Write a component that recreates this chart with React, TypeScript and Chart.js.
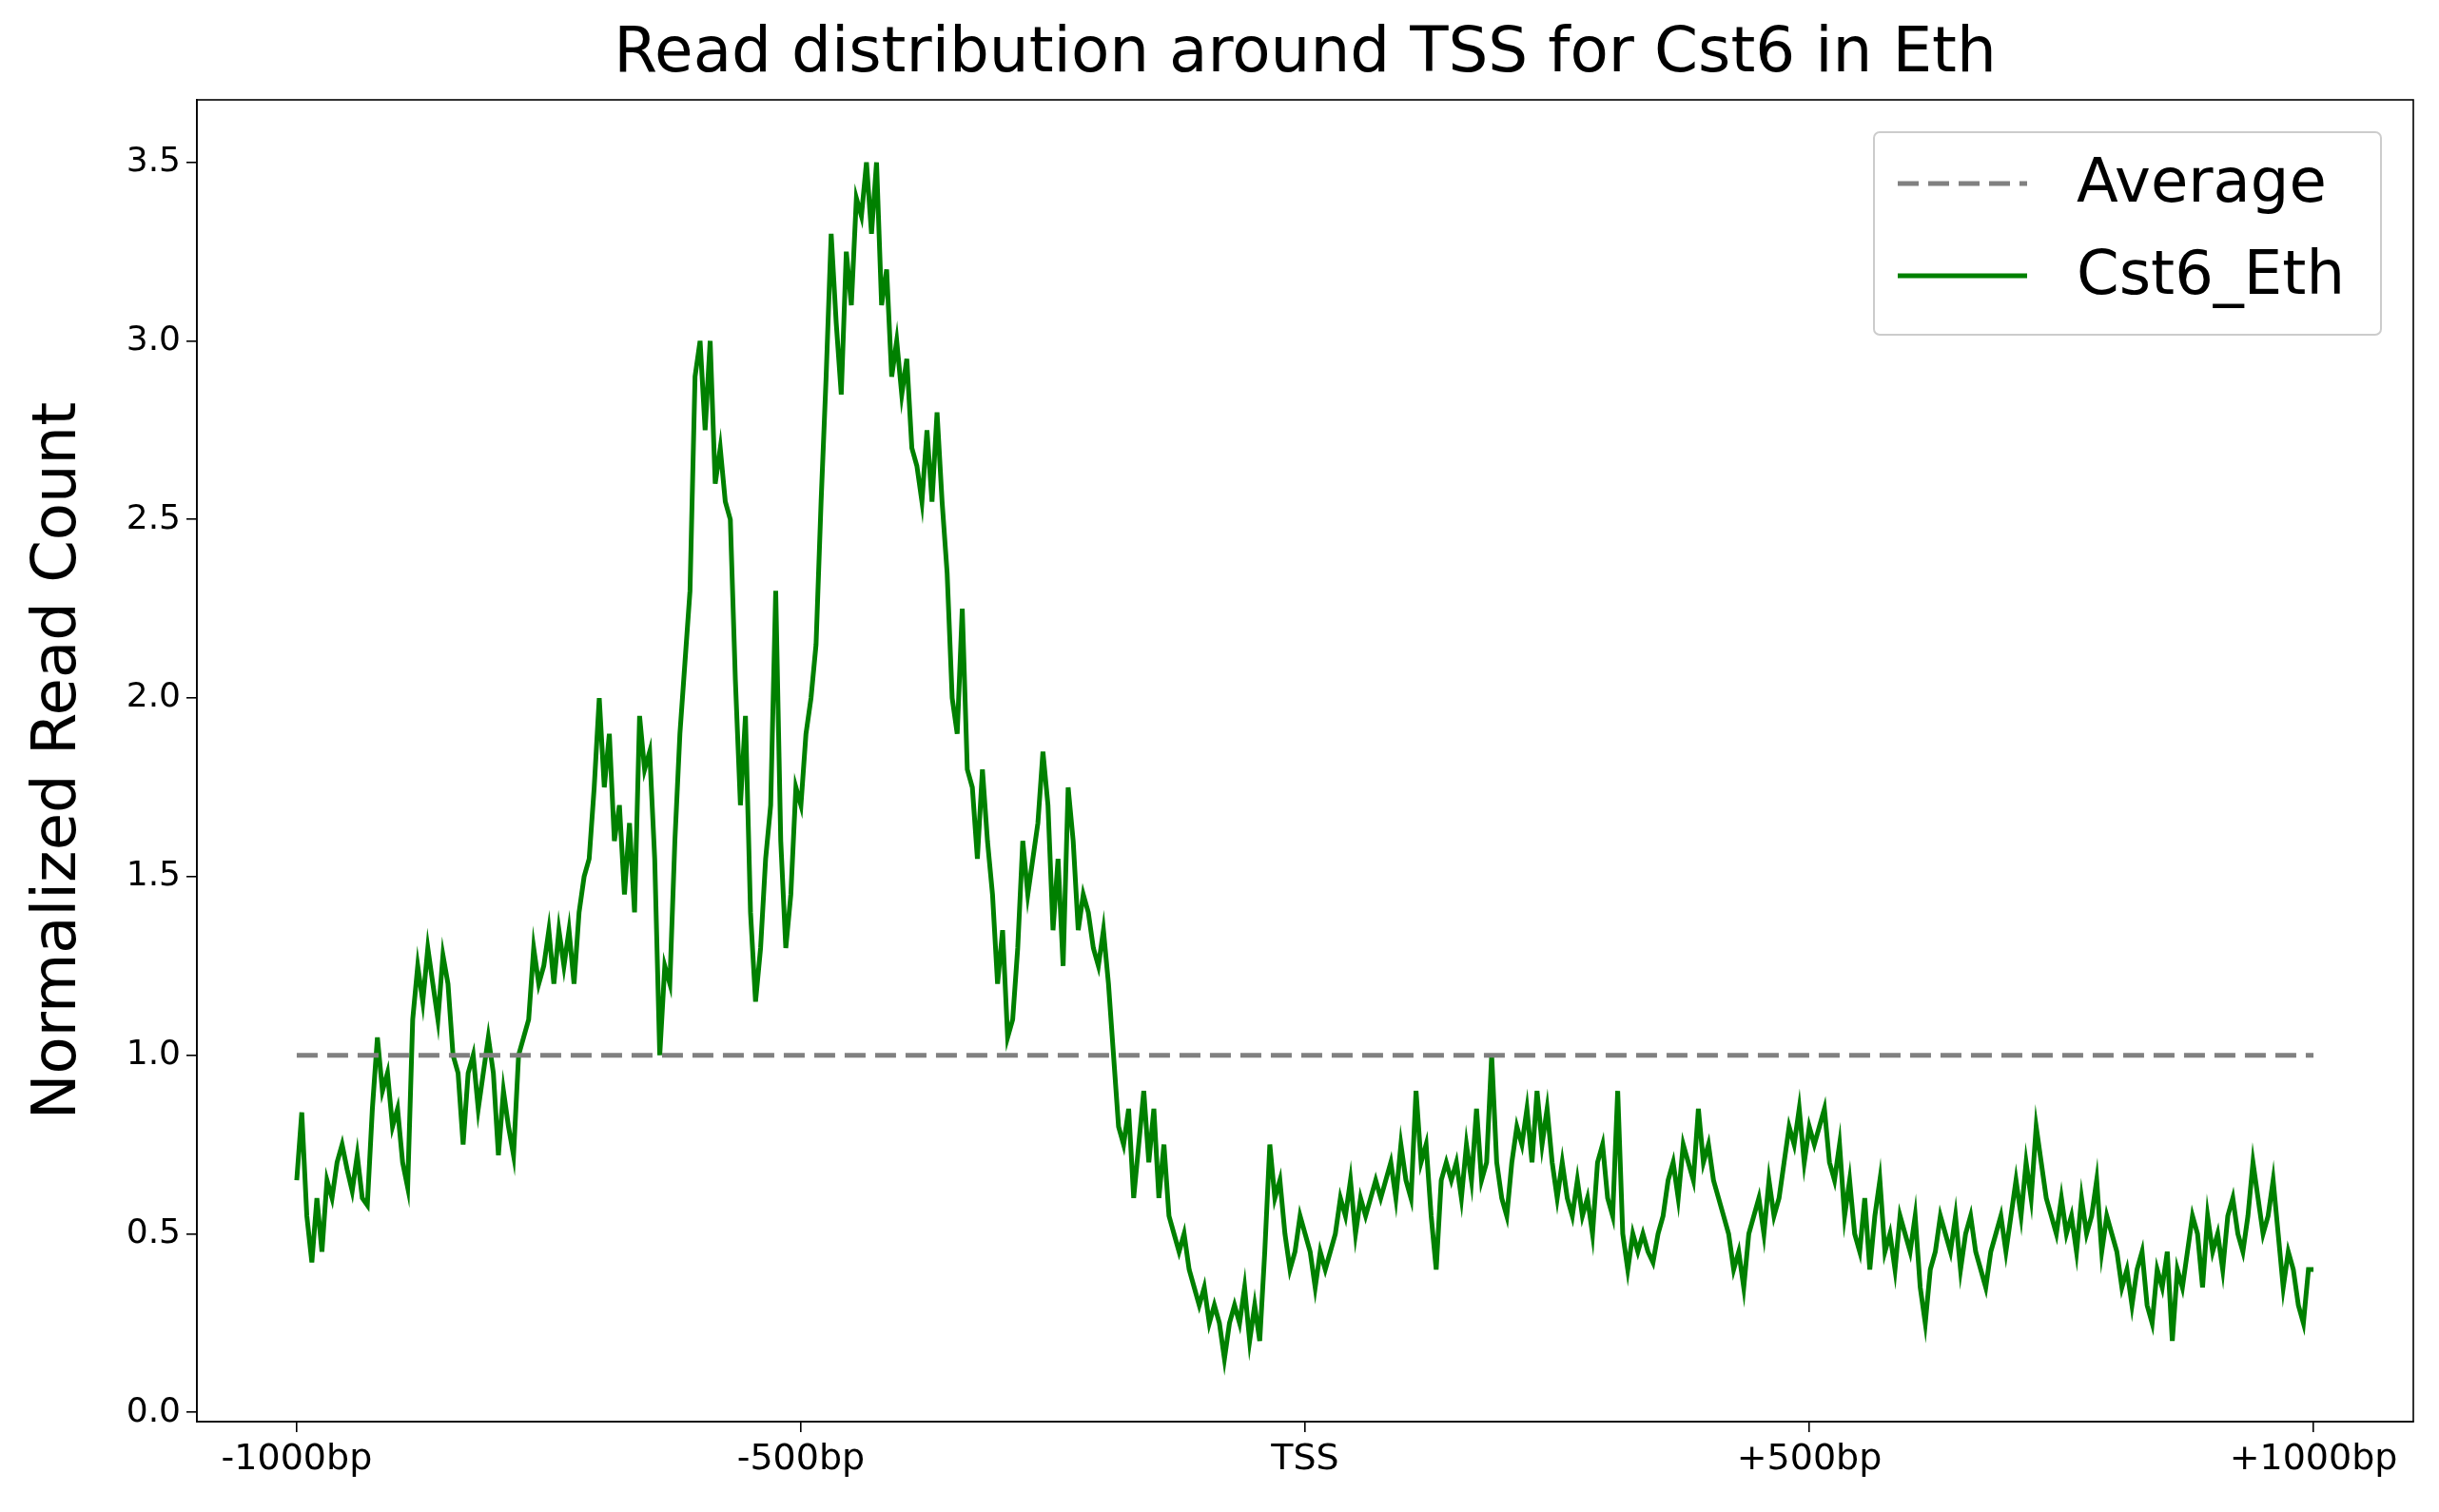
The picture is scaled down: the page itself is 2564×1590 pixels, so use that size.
import React, { useEffect, useRef } from "react";
import { Chart, registerables } from "chart.js";
Chart.register(...registerables);

const startBp = -1000;
const stepBp = 5;
const cst6Values = [
  0.65,0.84,0.55,0.42,0.6,0.45,0.65,0.6,0.7,0.75,
  0.68,0.62,0.72,0.6,0.58,0.85,1.05,0.9,0.95,0.8,
  0.85,0.7,0.63,1.1,1.25,1.15,1.3,1.2,1.1,1.28,
  1.2,1.0,0.95,0.75,0.95,1.0,0.85,0.95,1.05,0.95,
  0.72,0.9,0.8,0.72,1.0,1.05,1.1,1.3,1.2,1.25,
  1.35,1.2,1.35,1.25,1.35,1.2,1.4,1.5,1.55,1.75,
  2.0,1.75,1.9,1.6,1.7,1.45,1.65,1.4,1.95,1.8,
  1.85,1.55,1.0,1.25,1.2,1.6,1.9,2.1,2.3,2.9,
  3.0,2.75,3.0,2.6,2.7,2.55,2.5,2.05,1.7,1.95,
  1.4,1.15,1.3,1.55,1.7,2.3,1.6,1.3,1.45,1.75,
  1.7,1.9,2.0,2.15,2.55,2.9,3.3,3.05,2.85,3.25,
  3.1,3.4,3.35,3.5,3.3,3.5,3.1,3.2,2.9,3.0,
  2.85,2.95,2.7,2.65,2.55,2.75,2.55,2.8,2.55,2.35,
  2.0,1.9,2.25,1.8,1.75,1.55,1.8,1.6,1.45,1.2,
  1.35,1.05,1.1,1.3,1.6,1.45,1.55,1.65,1.85,1.7,
  1.35,1.55,1.25,1.75,1.6,1.35,1.45,1.4,1.3,1.25,
  1.35,1.2,1.0,0.8,0.75,0.85,0.6,0.75,0.9,0.7,
  0.85,0.6,0.75,0.55,0.5,0.45,0.5,0.4,0.35,0.3,
  0.35,0.25,0.3,0.25,0.15,0.25,0.3,0.25,0.35,0.2,
  0.3,0.2,0.45,0.75,0.6,0.65,0.5,0.4,0.45,0.55,
  0.5,0.45,0.35,0.45,0.4,0.45,0.5,0.6,0.55,0.65,
  0.5,0.6,0.55,0.6,0.65,0.6,0.65,0.7,0.6,0.75,
  0.65,0.6,0.9,0.7,0.75,0.55,0.4,0.65,0.7,0.65,
  0.7,0.6,0.75,0.65,0.85,0.65,0.7,1.0,0.7,0.6,
  0.55,0.7,0.8,0.75,0.85,0.7,0.9,0.75,0.85,0.7,
  0.6,0.7,0.6,0.55,0.65,0.55,0.6,0.5,0.7,0.75,
  0.6,0.55,0.9,0.5,0.4,0.5,0.45,0.5,0.45,0.42,
  0.5,0.55,0.65,0.7,0.6,0.75,0.7,0.65,0.85,0.7,
  0.75,0.65,0.6,0.55,0.5,0.4,0.45,0.35,0.5,0.55,
  0.6,0.5,0.65,0.55,0.6,0.7,0.8,0.75,0.85,0.7,
  0.8,0.75,0.8,0.85,0.7,0.65,0.75,0.55,0.65,0.5,
  0.45,0.6,0.4,0.55,0.65,0.45,0.5,0.4,0.55,0.5,
  0.45,0.55,0.35,0.25,0.4,0.45,0.55,0.5,0.45,0.55,
  0.4,0.5,0.55,0.45,0.4,0.35,0.45,0.5,0.55,0.45,
  0.55,0.65,0.55,0.7,0.6,0.8,0.7,0.6,0.55,0.5,
  0.6,0.5,0.55,0.45,0.6,0.5,0.55,0.65,0.45,0.55,
  0.5,0.45,0.35,0.4,0.3,0.4,0.45,0.3,0.25,0.4,
  0.35,0.45,0.2,0.4,0.35,0.45,0.55,0.5,0.35,0.55,
  0.45,0.5,0.4,0.55,0.6,0.5,0.45,0.55,0.7,0.6,
  0.5,0.55,0.65,0.5,0.35,0.45,0.4,0.3,0.25,0.4,
  0.4,
];
const averageValue = 1.0;
const xTickValues = [-1000, -500, 0, 500, 1000];
const xTickLabels = ["-1000bp", "-500bp", "TSS", "+500bp", "+1000bp"];
const yTickValues = [0, 0.5, 1, 1.5, 2, 2.5, 3, 3.5];

const FONT = "'DejaVu Sans', sans-serif";

export default function App() {
  const ref = useRef<HTMLCanvasElement>(null);
  useEffect(() => {
    document.body.style.margin = "0";
    const pts = cst6Values.map((v, i) => ({ x: startBp + i * stepBp, y: v }));
    const overlay = {
      id: "overlay",
      afterDraw(chart: any) {
        const ctx = chart.ctx;
        const a = chart.chartArea;
        ctx.save();
        ctx.strokeStyle = "#000";
        ctx.lineWidth = 1.6;
        ctx.strokeRect(a.left, a.top, a.right - a.left, a.bottom - a.top);
        ctx.fillStyle = "#000";
        ctx.font = `66px ${FONT}`;
        ctx.textAlign = "center";
        ctx.textBaseline = "middle";
        ctx.fillText("Read distribution around TSS for Cst6 in Eth", (a.left + a.right) / 2, 58);
        // legend
        const bx = 1970, by = 139, bw = 533, bh = 213;
        ctx.fillStyle = "rgba(255,255,255,0.8)";
        ctx.strokeStyle = "#cccccc";
        ctx.lineWidth = 2;
        ctx.beginPath();
        (ctx as any).roundRect(bx, by, bw, bh, 6);
        ctx.fill();
        ctx.stroke();
        ctx.lineWidth = 5;
        ctx.strokeStyle = "#808080";
        ctx.setLineDash([22, 10]);
        ctx.beginPath(); ctx.moveTo(1995, 193); ctx.lineTo(2131, 193); ctx.stroke();
        ctx.setLineDash([]);
        ctx.strokeStyle = "#008000";
        ctx.beginPath(); ctx.moveTo(1995, 290); ctx.lineTo(2131, 290); ctx.stroke();
        ctx.fillStyle = "#000";
        ctx.font = `64px ${FONT}`;
        ctx.textAlign = "left";
        ctx.fillText("Average", 2183, 195);
        ctx.fillText("Cst6_Eth", 2183, 292);
        ctx.restore();
      },
    };
    const chart = new Chart(ref.current!, {
      type: "line",
      data: {
        datasets: [
          {
            label: "Average",
            data: [{ x: -1000, y: averageValue }, { x: 1000, y: averageValue }],
            borderColor: "#808080",
            borderWidth: 5,
            borderDash: [22, 10],
            pointRadius: 0,
          },
          {
            label: "Cst6_Eth",
            data: pts,
            borderColor: "#008000",
            borderWidth: 5,
            pointRadius: 0,
            tension: 0,
          },
        ],
      },
      options: {
        animation: false,
        responsive: false,
        layout: { padding: { top: 105, right: 27, left: 0, bottom: 0 } },
        plugins: { legend: { display: false }, title: { display: false }, tooltip: { enabled: false } },
        scales: {
          x: {
            type: "linear",
            min: -1099,
            max: 1099,
            afterBuildTicks: (s: any) => { s.ticks = xTickValues.map((v) => ({ value: v })); },
            afterFit: (s: any) => { s.height = 95; },
            ticks: {
              autoSkip: false,
              maxRotation: 0,
              color: "#000",
              font: { family: FONT, size: 38 },
              padding: 6,
              callback: (v: any) => xTickLabels[xTickValues.indexOf(Number(v))] ?? "",
            },
            grid: { drawOnChartArea: false, tickLength: 11, color: "#000", lineWidth: 1.6 },
            border: { color: "#000", width: 1.6 },
          },
          y: {
            min: -0.026,
            max: 3.675,
            afterBuildTicks: (s: any) => { s.ticks = yTickValues.map((v) => ({ value: v })); },
            afterFit: (s: any) => { s.width = 207; },
            ticks: {
              autoSkip: false,
              color: "#000",
              font: { family: FONT, size: 36 },
              padding: 6,
              callback: (v: any) => Number(v).toFixed(1),
            },
            title: { display: true, text: "Normalized Read Count", color: "#000", font: { family: FONT, size: 64 }, padding: { top: 24, bottom: 0 } },
            grid: { drawOnChartArea: false, tickLength: 11, color: "#000", lineWidth: 1.6 },
            border: { color: "#000", width: 1.6 },
          },
        },
      },
      plugins: [overlay],
    });
    return () => chart.destroy();
  }, []);
  return (
    <div style={{ width: 2564, height: 1590, background: "#fff" }}>
      <canvas ref={ref} width={2564} height={1590} style={{ width: 2564, height: 1590, display: "block" }} />
    </div>
  );
}
